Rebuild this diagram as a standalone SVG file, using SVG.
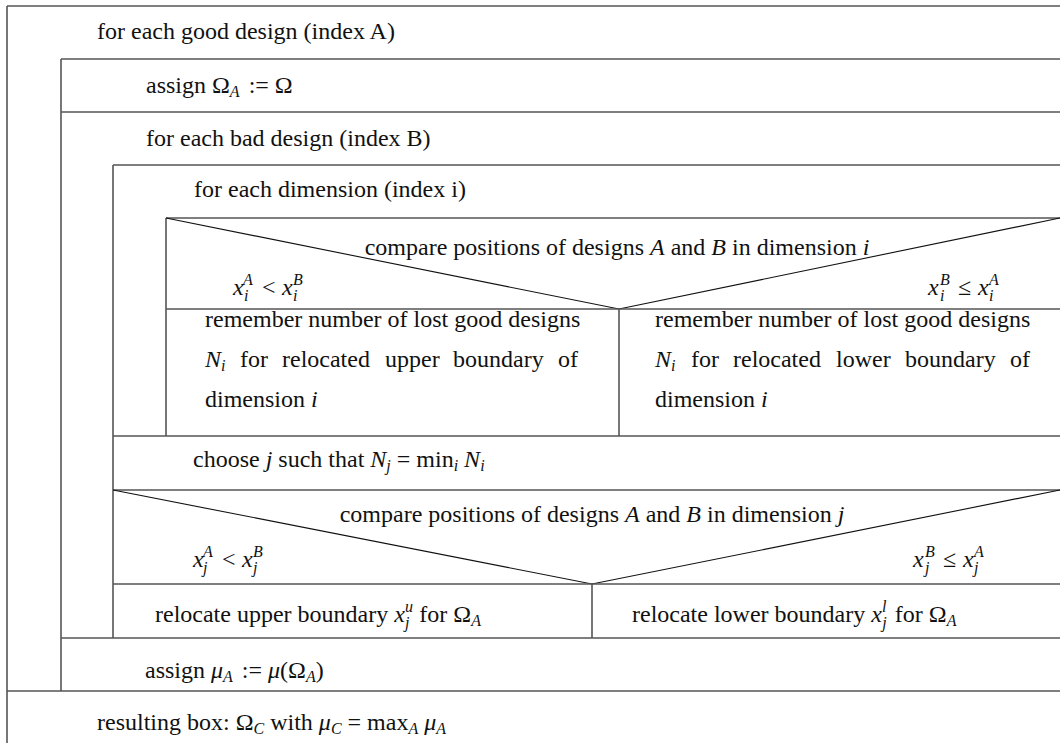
<svg xmlns="http://www.w3.org/2000/svg" width="1060" height="743" viewBox="0 0 1060 743">
<style>
.bg{fill:#fff}
.ln{stroke:#555;stroke-width:1.6;fill:none}
.dg{stroke:#111;stroke-width:1.1;fill:none}
text{font-family:"Liberation Serif","Times New Roman",serif;font-size:24px;fill:#111}
.i{font-style:italic}
.s{font-size:16px}
</style>
<rect class="bg" x="0" y="0" width="1060" height="743"/>
<g id="connectors">
<line class="ln" x1="7" y1="6" x2="1060" y2="6"/>
<line class="ln" x1="7" y1="6" x2="7" y2="743"/>
<line class="ln" x1="61" y1="59" x2="1060" y2="59"/>
<line class="ln" x1="61" y1="59" x2="61" y2="691"/>
<line class="ln" x1="61" y1="112" x2="1060" y2="112"/>
<line class="ln" x1="113" y1="165" x2="1060" y2="165"/>
<line class="ln" x1="113" y1="165" x2="113" y2="638"/>
<line class="ln" x1="166" y1="218" x2="1060" y2="218"/>
<line class="ln" x1="166" y1="218" x2="166" y2="436"/>
<polyline class="dg" points="166,218 619,309 1060,218"/>
<line class="ln" x1="166" y1="309" x2="1060" y2="309"/>
<line class="ln" x1="619" y1="309" x2="619" y2="436"/>
<line class="ln" x1="113" y1="436" x2="1060" y2="436"/>
<line class="ln" x1="113" y1="490" x2="1060" y2="490"/>
<polyline class="dg" points="113,490 592,584 1060,490"/>
<line class="ln" x1="113" y1="584" x2="1060" y2="584"/>
<line class="ln" x1="592" y1="584" x2="592" y2="638"/>
<line class="ln" x1="61" y1="638" x2="1060" y2="638"/>
<line class="ln" x1="7" y1="691" x2="1060" y2="691"/>
</g>
<g id="loopA">
<text x="97" y="39">for each good design (index A)</text>
</g>
<g id="assignOmega">
<text x="146" y="93">assign Ω<tspan class="s i" dy="4">A</tspan><tspan dy="-4" dx="3"> := Ω</tspan></text>
</g>
<g id="loopB">
<text x="146" y="146">for each bad design (index B)</text>
</g>
<g id="loopI">
<text x="194" y="197">for each dimension (index i)</text>
</g>
<g id="decisionI">
<text x="617" y="255" text-anchor="middle">compare positions of designs <tspan class="i">A</tspan> and <tspan class="i">B</tspan> in dimension <tspan class="i">i</tspan></text>
<text y="295"><tspan class="i" x="233">x</tspan><tspan class="s i" x="243" y="285">A</tspan><tspan class="s i" x="244" y="301">i</tspan><tspan x="262" y="295">&lt;</tspan><tspan class="i" x="282">x</tspan><tspan class="s i" x="293" y="285">B</tspan><tspan class="s i" x="293" y="301">i</tspan></text>
<text y="295"><tspan class="i" x="928">x</tspan><tspan class="s i" x="940" y="285">B</tspan><tspan class="s i" x="940" y="301">i</tspan><tspan x="958" y="295">≤</tspan><tspan class="i" x="978">x</tspan><tspan class="s i" x="989" y="285">A</tspan><tspan class="s i" x="989" y="301">i</tspan></text>
</g>
<g id="upperCell">
<text x="205" y="327">remember number of lost good designs</text>
<text y="367"><tspan class="i" x="205">N</tspan><tspan class="s i" dy="4">i</tspan><tspan x="240" dy="-4">for</tspan><tspan x="282">relocated</tspan><tspan x="385">upper</tspan><tspan x="453">boundary</tspan><tspan x="558">of</tspan></text>
<text x="205" y="407">dimension <tspan class="i">i</tspan></text>
</g>
<g id="lowerCell">
<text x="655" y="327">remember number of lost good designs</text>
<text y="367"><tspan class="i" x="655">N</tspan><tspan class="s i" dy="4">i</tspan><tspan x="691" dy="-4">for</tspan><tspan x="733">relocated</tspan><tspan x="836">lower</tspan><tspan x="905">boundary</tspan><tspan x="1010">of</tspan></text>
<text x="655" y="407">dimension <tspan class="i">i</tspan></text>
</g>
<g id="chooseJ">
<text x="193" y="467">choose <tspan class="i">j</tspan> such that <tspan class="i">N</tspan><tspan class="s i" dy="4">j</tspan><tspan dy="-4"> = min</tspan><tspan class="s i" dy="4">i</tspan><tspan class="i" dy="-4"> N</tspan><tspan class="s i" dy="4">i</tspan></text>
</g>
<g id="decisionJ">
<text x="592" y="522" text-anchor="middle">compare positions of designs <tspan class="i">A</tspan> and <tspan class="i">B</tspan> in dimension <tspan class="i">j</tspan></text>
<text y="567"><tspan class="i" x="193">x</tspan><tspan class="s i" x="203" y="557">A</tspan><tspan class="s i" x="203" y="573">j</tspan><tspan x="222" y="567">&lt;</tspan><tspan class="i" x="242">x</tspan><tspan class="s i" x="253" y="557">B</tspan><tspan class="s i" x="253" y="573">j</tspan></text>
<text y="567"><tspan class="i" x="913">x</tspan><tspan class="s i" x="925" y="557">B</tspan><tspan class="s i" x="925" y="573">j</tspan><tspan x="943" y="567">≤</tspan><tspan class="i" x="963">x</tspan><tspan class="s i" x="974" y="557">A</tspan><tspan class="s i" x="974" y="573">j</tspan></text>
</g>
<g id="relocUpper">
<text x="155" y="622">relocate upper boundary <tspan class="i">x</tspan><tspan class="s i" dy="-10">u</tspan><tspan class="s i" dx="-8" dy="16">j</tspan><tspan dy="-6" dx="4"> for Ω</tspan><tspan class="s i" dy="4">A</tspan></text>
</g>
<g id="relocLower">
<text x="632" y="622">relocate lower boundary <tspan class="i">x</tspan><tspan class="s i" dy="-10">l</tspan><tspan class="s i" dx="-4" dy="16">j</tspan><tspan dy="-6" dx="2"> for Ω</tspan><tspan class="s i" dy="4">A</tspan></text>
</g>
<g id="assignMu">
<text x="145" y="678">assign <tspan class="i">μ</tspan><tspan class="s i" dy="4">A</tspan><tspan dy="-4" dx="3"> := </tspan><tspan class="i">μ</tspan>(Ω<tspan class="s i" dy="4">A</tspan><tspan dy="-4">)</tspan></text>
</g>
<g id="result">
<text x="97" y="730">resulting box: Ω<tspan class="s i" dy="4">C</tspan><tspan dy="-4"> with </tspan><tspan class="i">μ</tspan><tspan class="s i" dy="4">C</tspan><tspan dy="-4"> = max</tspan><tspan class="s i" dy="4">A</tspan><tspan class="i" dy="-4"> μ</tspan><tspan class="s i" dy="4">A</tspan></text>
</g>
</svg>
